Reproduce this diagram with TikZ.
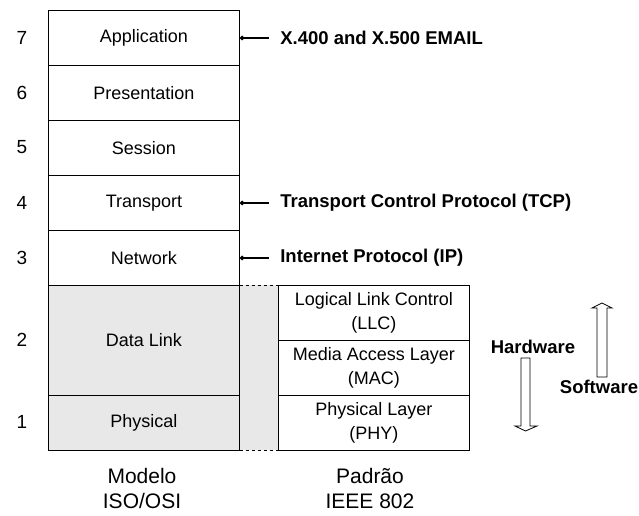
\documentclass[tikz,border=0pt]{standalone}
\usepackage{fontspec}
\setmainfont{Liberation Sans}
\usetikzlibrary{positioning,arrows.meta}

\begin{document}
\begin{tikzpicture}[x=1pt,y=-1pt,line width=0.9pt,
  layer/.style={draw,minimum width=191pt,anchor=north west,inner sep=0pt,align=center,font=\fontsize{18}{24}\selectfont},
  proto/.style={anchor=west,inner sep=0pt,font=\fontsize{18.5}{20}\selectfont\bfseries},
  num/.style={font=\fontsize{19}{21}\selectfont},
  hollow/.style={draw,fill=white,line width=0.8pt}]
\useasboundingbox (0,0) rectangle (639,515);
% ISO/OSI upper layers
\foreach \k/\name [count=\i from 0] in {7/Application,6/Presentation,5/Session,4/Transport,3/Network} {
  \node[layer,minimum height=55pt] (l\k) at (48,10+55*\i) {\name};
  \node[num] (n\k) at (22,37.5+55*\i) {\k};
}
\fill[gray!18] (240,285) rectangle (278,450);
\node[layer,fill=gray!18,minimum height=110pt] (l2) at (48,285) {Data Link};
\node[layer,fill=gray!18,minimum height=55pt] (l1) at (48,395) {Physical};
\node[num] (n2) at (22,340) {2}; \node[num] (n1) at (22,422) {1};
% IEEE 802 sublayers
\node[layer,minimum height=55pt] (llc) at (278,285) {Logical Link Control\\(LLC)};
\node[layer,minimum height=55pt] (mac) at (278,340) {Media Access Layer\\(MAC)};
\node[layer,minimum height=55pt] (phy) at (278,395) {Physical Layer\\(PHY)};
\draw[dashed] (l2.north east) -- (llc.north west); \draw[dashed] (l1.south east) -- (phy.south west);
% protocols
\node[proto,right=40pt of l7] (t7) {X.400 and X.500 EMAIL};
\node[proto,right=40pt of l4] (t4) {Transport Control Protocol (TCP)};
\node[proto,right=40pt of l3] (t3) {Internet Protocol (IP)};
\foreach \k in {7,4,3} { \draw[{Circle[length=4.5pt]}-,line width=1.3pt,shorten >=11pt] (l\k.east) -- (t\k.west); };
% hardware / software
\node[proto,anchor=center] (hw) at (533,347) {Hardware};
\node[proto,anchor=center] (sw) at (599,387) {Software};
\draw[hollow] (521,358) -- (530,358) -- (530,426) -- (537,426) -- (525.5,431) -- (515,426) -- (521,426) -- cycle;
\draw[hollow] (597,377) -- (607,377) -- (607,308) -- (612,308) -- (602,303) -- (592,308) -- (597,308) -- cycle;
% captions
\node[align=center,font=\fontsize{21}{25}\selectfont] (iso) at (142,488) {Modelo\\ISO/OSI};
\node[align=center,font=\fontsize{21}{25}\selectfont] (ieee) at (370,488) {Padrão\\IEEE 802};
\end{tikzpicture}
\end{document}
